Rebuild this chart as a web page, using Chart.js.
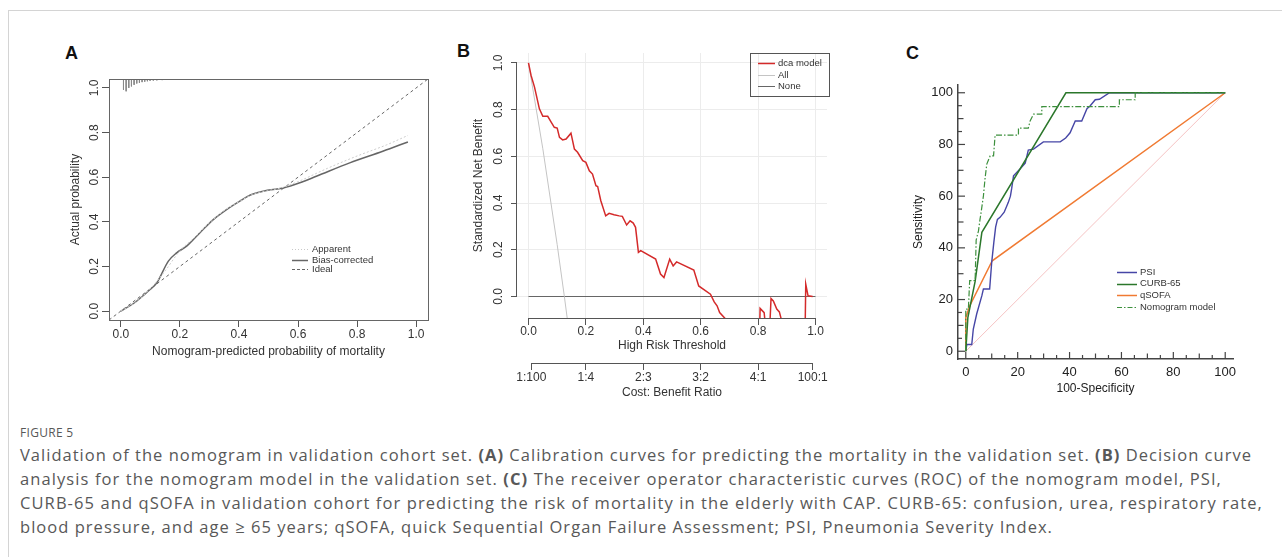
<!DOCTYPE html>
<html>
<head>
<meta charset="utf-8">
<script src="https://cdn.jsdelivr.net/npm/chart.js@4.4.1/dist/chart.umd.min.js"></script>
<style>
 html,body{margin:0;padding:0;background:#fff;}
 body{width:1282px;height:557px;position:relative;overflow:hidden;}
 .frameT{position:absolute;left:8px;top:10px;width:1274px;height:1px;background:#d4d4d4;}
 .frameL{position:absolute;left:8px;top:10px;width:1px;height:547px;background:#d4d4d4;}
 .plbl{position:absolute;font:bold 18px "Liberation Sans",Arial,sans-serif;color:#111;line-height:18px;}
 canvas{position:absolute;}
 .cap{position:absolute;left:20px;font-family:"Open Sans",sans-serif;font-size:16.5px;line-height:24px;color:#585858;white-space:nowrap;}
 .fig{position:absolute;left:20px;top:425px;font-family:"Open Sans",sans-serif;font-size:12px;line-height:16px;color:#585858;letter-spacing:0.3px;white-space:nowrap;}
</style>
</head>
<body>
<div class="frameT"></div><div class="frameL"></div>
<div class="plbl" style="left:65px;top:44px">A</div>
<div class="plbl" style="left:457px;top:42px">B</div>
<div class="plbl" style="left:906px;top:44px">C</div>
<canvas id="cA" width="410" height="310" style="left:40px;top:60px"></canvas>
<canvas id="cB" width="410" height="365" style="left:450px;top:40px"></canvas>
<canvas id="cC" width="380" height="340" style="left:900px;top:60px"></canvas>
<div class="fig">FIGURE 5</div>
<div class="cap" id="l1" style="top:443px">Validation of the nomogram in validation cohort set. <b>(A)</b> Calibration curves for predicting the mortality in the validation set. <b>(B)</b> Decision curve</div>
<div class="cap" id="l2" style="top:467px">analysis for the nomogram model in the validation set. <b>(C)</b> The receiver operator characteristic curves (ROC) of the nomogram model, PSI,</div>
<div class="cap" id="l3" style="top:491px">CURB-65 and qSOFA in validation cohort for predicting the risk of mortality in the elderly with CAP. CURB-65: confusion, urea, respiratory rate,</div>
<div class="cap" id="l4" style="top:515px">blood pressure, and age ≥ 65 years; qSOFA, quick Sequential Organ Failure Assessment; PSI, Pneumonia Severity Index.</div>
<script>
// ---------------- Panel A: calibration ----------------
const calTicks = [0, 0.2, 0.4, 0.6, 0.8, 1.0];
const biasX = [0,0.043,0.099,0.122,0.161,0.189,0.223,0.268,0.313,0.358,0.403,0.437,0.482,0.55,0.606,0.662,0.775,0.887,0.972];
const biasY = [0,0.034,0.097,0.127,0.224,0.261,0.291,0.351,0.41,0.455,0.493,0.519,0.537,0.552,0.575,0.604,0.664,0.716,0.758];
const apparentX = [0,0.05,0.1,0.15,0.2,0.25,0.3,0.35,0.4,0.45,0.5,0.55,0.6,0.7,0.8,0.9,0.972];
const apparentY = [0,0.04,0.10,0.18,0.27,0.33,0.395,0.45,0.49,0.525,0.54,0.555,0.58,0.64,0.695,0.745,0.787];
const idealX = [-0.04, 1.04];
const idealY = [-0.04, 1.04];
const rugX = [0.009,0.018,0.027,0.036,0.045,0.054,0.063,0.072,0.081,0.09,0.099,0.11,0.122,0.14,0.17,0.2,0.24,0.28,0.33,0.38,0.44,0.5,0.57,0.65,0.73,0.82,0.9,0.97];
const rugLen = [0.048,0.055,0.040,0.033,0.026,0.020,0.017,0.014,0.012,0.010,0.008,0.007,0.006,0.005,0.004,0.004,0.003,0.003,0.003,0.003,0.003,0.003,0.003,0.003,0.003,0.003,0.003,0.003];

// ---------------- Panel B: decision curve ----------------
const thrTicks = [0, 0.2, 0.4, 0.6, 0.8, 1.0];
const nbTicks = [0, 0.2, 0.4, 0.6, 0.8, 1.0];
const costLabels = ['1:100','1:4','2:3','3:2','4:1','100:1'];
const dcaX = [0,0.009,0.021,0.038,0.05,0.067,0.079,0.09,0.1,0.108,0.119,0.131,0.148,0.16,0.171,0.189,0.2,0.212,0.223,0.235,0.241,0.252,0.269,0.281,0.298,0.316,0.327,0.342,0.354,0.365,0.373,0.383,0.391,0.443,0.460,0.472,0.492,0.504,0.516,0.576,0.593,0.634,0.647,0.657,0.666,0.685,0.72,0.77,0.802,0.807,0.821,0.832,0.838,0.845,0.853,0.865,0.874,0.892,0.93,0.962,0.966,0.974,0.99];
const dcaY = [1.0,0.946,0.896,0.803,0.771,0.771,0.746,0.724,0.721,0.681,0.670,0.674,0.699,0.631,0.617,0.581,0.574,0.538,0.524,0.474,0.471,0.410,0.345,0.356,0.350,0.345,0.343,0.306,0.324,0.314,0.296,0.189,0.196,0.160,0.096,0.081,0.160,0.131,0.148,0.113,0.045,0.010,-0.023,-0.040,-0.069,-0.094,-0.2,-0.3,-0.3,-0.051,-0.069,-0.2,-0.2,-0.009,-0.019,-0.054,-0.066,-0.15,-0.3,-0.3,0.053,0.003,0.0];
const allX = [0, 0.05, 0.10, 0.125, 0.14];
const allY = [1.0, 0.632, 0.222, 0.0, -0.14];
const noneX = [0, 1];
const noneY = [0, 0];

// ---------------- Panel C: ROC ----------------
const rocTicks = [0,5,10,15,20,25,30,35,40,45,50,55,60,65,70,75,80,85,90,95,100];
const psiX = [0,0.4,2.3,2.9,4.2,6.2,6.8,9.2,10,10.8,11.5,12.2,13.2,14.8,16.4,17.2,17.7,18.4,20.9,22.9,24.1,26.1,29.9,36.4,38.5,40.2,42.2,44.7,46.7,47.9,49.9,51.5,55.4,100];
const psiY = [0,2.6,2.6,8.6,14.4,21.5,24.1,24.1,34.5,42,48,51,51.8,53.8,57.6,60,63,67.9,70.5,72.8,77.8,78.2,81,81,82.5,84.5,89.1,89.1,93.8,94.9,97.3,97.5,100,100];
const curbX = [0,0.8,3.6,6.2,38.6,100];
const curbY = [0,13,27,46,100,100];
const qsofaX = [0,0,1.5,10.2,100];
const qsofaY = [0,13,17.5,35,100];
const nomoX = [0,0,1,1.5,3.6,4,4.9,5.5,5.9,6.8,7.4,8.1,9.4,10.7,11.3,20.3,20.3,24.1,24.8,26.1,29.3,29.3,59.2,59.2,65.3,65.3,100];
const nomoY = [0,16.3,16.3,27.3,27.3,43,46.6,51.1,53.7,60.1,66.6,72.4,75.6,75.6,83.6,83.6,86.3,86.3,89.1,91.7,91.7,94.6,94.6,97.3,97.3,100,100];
const refX = [0, 100];
const refY = [0, 100];

// ---------------- helpers ----------------
const zip = (xs, ys) => xs.map((x, i) => ({x, y: ys[i]}));
const FONT = '"Liberation Sans", Arial, sans-serif';
Chart.defaults.font.family = FONT;
Chart.defaults.color = '#333';

const setTicks = arr => s => { s.ticks = arr.map(v => ({value: v})); };
const fixW = w => s => { s.width = w; };
const fixH = h => s => { s.height = h; };

const boxPlugin = { id: 'boxP', afterDraw(chart) {
  const o = chart.options.plugins.boxP; if (!o || !o.show) return;
  const {ctx, chartArea: a} = chart;
  ctx.save(); ctx.strokeStyle = o.color; ctx.lineWidth = o.width;
  ctx.strokeRect(Math.round(a.left) + 0.5, Math.round(a.top) + 0.5, Math.round(a.right - a.left), Math.round(a.bottom - a.top));
  ctx.restore();
}};

const rAxisPlugin = { id: 'rAxis', afterDraw(chart) {
  const o = chart.options.plugins.rAxis; if (!o || !o.axes) return;
  const ctx = chart.ctx;
  ctx.save(); ctx.strokeStyle = o.color; ctx.lineWidth = 1;
  o.axes.forEach(id => {
    const s = chart.scales[id]; const t = s.ticks;
    const p0 = s.getPixelForValue(t[0].value), p1 = s.getPixelForValue(t[t.length - 1].value);
    ctx.beginPath();
    if (s.isHorizontal()) { const y = Math.round(s.top) + 0.5; ctx.moveTo(p0, y); ctx.lineTo(p1, y); }
    else { const x = Math.round(s.right) - 0.5; ctx.moveTo(x, p0); ctx.lineTo(x, p1); }
    ctx.stroke();
  });
  ctx.restore();
}};

const innerTicks = { id: 'innerTicks', afterDraw(chart) {
  const o = chart.options.plugins.innerTicks; if (!o || !o.show) return;
  const {ctx, chartArea: a} = chart;
  const len = v => (v % 20 === 0 ? 7 : (v % 10 === 0 ? 5.5 : 4));
  ctx.save(); ctx.strokeStyle = o.color; ctx.lineWidth = 1.2;
  chart.scales.x.ticks.forEach(t => { const x = chart.scales.x.getPixelForValue(t.value);
    ctx.beginPath(); ctx.moveTo(x, a.bottom); ctx.lineTo(x, a.bottom - len(t.value)); ctx.stroke(); });
  chart.scales.y.ticks.forEach(t => { const y = chart.scales.y.getPixelForValue(t.value);
    ctx.beginPath(); ctx.moveTo(a.left, y); ctx.lineTo(a.left + len(t.value), y); ctx.stroke(); });
  ctx.restore();
}};

const inLegend = { id: 'inLegend', afterDraw(chart) {
  const o = chart.options.plugins.inLegend; if (!o || !o.items) return;
  const ctx = chart.ctx;
  ctx.save();
  if (o.box) { ctx.strokeStyle = o.box.color; ctx.lineWidth = 1;
    ctx.strokeRect(o.box.x + 0.5, o.box.y + 0.5, o.box.w, o.box.h); }
  ctx.font = o.font; ctx.textBaseline = 'middle'; ctx.textAlign = 'left';
  o.items.forEach((it, i) => {
    const y = o.rows[i];
    ctx.strokeStyle = it.color; ctx.lineWidth = it.width; ctx.setLineDash(it.dash || []);
    ctx.beginPath(); ctx.moveTo(o.x, Math.round(y) + 0.5); ctx.lineTo(o.x + o.len, Math.round(y) + 0.5); ctx.stroke();
    ctx.setLineDash([]);
    ctx.fillStyle = o.textColor; ctx.fillText(it.label, o.x + o.len + o.gap, y + (it.dy || 0));
  });
  ctx.restore();
}};

const baseOpts = {
  responsive: false, animation: false, devicePixelRatio: 1, events: [],
};

// ---------------- Chart A ----------------
const rugData = [];
rugX.forEach((x, i) => { rugData.push({x, y: 1.04}, {x, y: 1.04 - rugLen[i]}, {x, y: null}); });

new Chart(document.getElementById('cA'), {
  type: 'scatter',
  data: { datasets: [
    { label: 'Apparent', data: zip(apparentX, apparentY), showLine: true, borderColor: '#cdcdcd', borderWidth: 1, borderDash: [2, 2], pointRadius: 0, cubicInterpolationMode: 'monotone' },
    { label: 'Bias-corrected', data: zip(biasX, biasY), showLine: true, borderColor: '#666', borderWidth: 1.5, pointRadius: 0, cubicInterpolationMode: 'monotone' },
    { label: 'Ideal', data: zip(idealX, idealY), showLine: true, borderColor: '#666', borderWidth: 1, borderDash: [3, 3], pointRadius: 0 },
    { label: 'rug', data: rugData, showLine: true, spanGaps: false, borderColor: '#888', borderWidth: 1, pointRadius: 0 }
  ]},
  options: Object.assign({}, baseOpts, {
    layout: { padding: { left: 0, top: 19, right: 22, bottom: 5 } },
    plugins: {
      legend: { display: false }, tooltip: { enabled: false },
      boxP: { show: true, color: '#666', width: 1 },
      inLegend: { x: 252, len: 16, gap: 4, rows: [189, 200, 209], font: '9.5px ' + FONT, textColor: '#333',
        items: [
          { label: 'Apparent', color: '#c8c8c8', width: 1, dash: [1, 2] },
          { label: 'Bias-corrected', color: '#666', width: 1.5 },
          { label: 'Ideal', color: '#666', width: 1, dash: [3, 2] }
        ] }
    },
    scales: {
      x: { type: 'linear', min: -0.04, max: 1.04, afterBuildTicks: setTicks(calTicks), afterFit: fixH(45),
        grid: { drawOnChartArea: false, tickLength: 7, tickColor: '#555' }, border: { display: false },
        ticks: { padding: 0, autoSkip: false, maxRotation: 0, font: { size: 12 }, color: '#333', callback: v => v.toFixed(1) },
        title: { display: true, text: 'Nomogram-predicted probability of mortality', font: { size: 12 }, color: '#333', padding: { top: 0, bottom: 6 } } },
      y: { type: 'linear', min: -0.04, max: 1.04, afterBuildTicks: setTicks(calTicks), afterFit: fixW(69),
        grid: { drawOnChartArea: false, tickLength: 7, tickColor: '#555' }, border: { display: false },
        ticks: { padding: -1, autoSkip: false, minRotation: 90, maxRotation: 90, crossAlign: 'center', font: { size: 12 }, color: '#333', callback: v => v.toFixed(1) },
        title: { display: true, text: 'Actual probability', font: { size: 12 }, color: '#333', padding: { top: 28, bottom: 0 } } }
    }
  }),
  plugins: [boxPlugin, inLegend]
});

// ---------------- Chart B ----------------
const costPos = costLabels.map(l => { const [a, b] = l.split(':').map(Number); return a / (a + b); });
new Chart(document.getElementById('cB'), {
  type: 'scatter',
  data: { datasets: [
    { label: 'dca model', data: zip(dcaX, dcaY), showLine: true, borderColor: '#d42a2a', borderWidth: 1.5, pointRadius: 0 },
    { label: 'All', data: zip(allX, allY), showLine: true, borderColor: '#c4c4c4', borderWidth: 1, pointRadius: 0 },
    { label: 'None', data: zip(noneX, noneY), showLine: true, borderColor: '#666', borderWidth: 1.2, pointRadius: 0 }
  ]},
  options: Object.assign({}, baseOpts, {
    layout: { padding: { left: 0, top: 13, right: 33, bottom: 2 } },
    plugins: {
      legend: { display: false }, tooltip: { enabled: false },
      rAxis: { axes: ['x', 'x2', 'y'], color: '#555' },
      inLegend: { box: { x: 300, y: 13, w: 79, h: 43, color: '#555' }, x: 308, len: 17, gap: 3, rows: [23, 35, 46], font: '9.5px ' + FONT, textColor: '#333',
        items: [
          { label: 'dca model', color: '#d42a2a', width: 1.5 },
          { label: 'All', color: '#c4c4c4', width: 1 },
          { label: 'None', color: '#666', width: 1 }
        ] }
    },
    scales: {
      x: { type: 'linear', position: 'bottom', weight: 0, min: -0.04, max: 1.04, afterBuildTicks: setTicks(thrTicks), afterFit: fixH(45),
        grid: { color: '#ececec', tickLength: 7, tickColor: '#555' }, border: { display: false },
        ticks: { padding: -1, autoSkip: false, maxRotation: 0, font: { size: 12 }, color: '#333', callback: v => v.toFixed(1) },
        title: { display: true, text: 'High Risk Threshold', font: { size: 12 }, color: '#333', padding: { top: 0, bottom: 10 } } },
      x2: { type: 'linear', position: 'bottom', weight: 1, min: -0.04, max: 1.04, afterBuildTicks: setTicks(costPos), afterFit: fixH(40),
        grid: { drawOnChartArea: false, tickLength: 7, tickColor: '#555' }, border: { display: false },
        ticks: { padding: 0, autoSkip: false, maxRotation: 0, font: { size: 12 }, color: '#333', callback: (v, i) => costLabels[i] },
        title: { display: true, text: 'Cost: Benefit Ratio', font: { size: 12 }, color: '#333', padding: { top: 0, bottom: 3 } } },
      y: { type: 'linear', min: -0.092, max: 1.042, afterBuildTicks: setTicks(nbTicks), afterFit: fixW(67),
        grid: { color: '#ececec', tickLength: 6, tickColor: '#555' }, border: { display: false },
        ticks: { padding: 4, autoSkip: false, minRotation: 90, maxRotation: 90, crossAlign: 'center', font: { size: 12 }, color: '#333', callback: v => v.toFixed(1) },
        title: { display: true, text: 'Standardized Net Benefit', font: { size: 12 }, color: '#333', padding: { top: 21, bottom: 0 } } }
    }
  }),
  plugins: [rAxisPlugin, inLegend]
});

// ---------------- Chart C ----------------
new Chart(document.getElementById('cC'), {
  type: 'scatter',
  data: { datasets: [
    { label: 'ref', data: zip(refX, refY), showLine: true, borderColor: '#f2b4b4', borderWidth: 0.8, pointRadius: 0, order: 10 },
    { label: 'qSOFA', data: zip(qsofaX, qsofaY), showLine: true, borderColor: '#f07a32', borderWidth: 1.5, pointRadius: 0, order: 4 },
    { label: 'PSI', data: zip(psiX, psiY), showLine: true, borderColor: '#4646a6', borderWidth: 1.4, pointRadius: 0, order: 3 },
    { label: 'CURB-65', data: zip(curbX, curbY), showLine: true, borderColor: '#2b772b', borderWidth: 1.5, pointRadius: 0, order: 2 },
    { label: 'Nomogram model', data: zip(nomoX, nomoY), showLine: true, borderColor: '#3d903d', borderWidth: 1.2, borderDash: [6, 2, 1.5, 2], pointRadius: 0, order: 1 }
  ]},
  options: Object.assign({}, baseOpts, {
    layout: { padding: { left: 0, top: 25, right: 47, bottom: 1 } },
    plugins: {
      legend: { display: false }, tooltip: { enabled: false },
      innerTicks: { show: true, color: '#444' },
      inLegend: { x: 217, len: 20, gap: 3, rows: [212, 223.5, 235, 247], font: '9.5px ' + FONT, textColor: '#333',
        items: [
          { label: 'PSI', color: '#4646a6', width: 1.5 },
          { label: 'CURB-65', color: '#2b772b', width: 1.5 },
          { label: 'qSOFA', color: '#f07a32', width: 1.5 },
          { label: 'Nomogram model', color: '#3d903d', width: 1.2, dash: [5, 2, 1.5, 2] }
        ] }
    },
    scales: {
      x: { type: 'linear', min: -3, max: 103, afterBuildTicks: setTicks(rocTicks), afterFit: fixH(40),
        grid: { drawOnChartArea: false, drawTicks: false }, border: { display: true, color: '#444', width: 1.5 },
        ticks: { padding: 6, autoSkip: false, maxRotation: 0, font: { size: 13 }, color: '#222', callback: v => (v % 20 === 0 ? String(v) : '') },
        title: { display: true, text: '100-Specificity', font: { size: 12 }, color: '#222', padding: { top: 0, bottom: 3 } } },
      y: { type: 'linear', min: -3, max: 103, afterBuildTicks: setTicks(rocTicks), afterFit: fixW(58),
        grid: { drawOnChartArea: false, drawTicks: false }, border: { display: true, color: '#444', width: 1.5 },
        ticks: { padding: 5, autoSkip: false, font: { size: 13 }, color: '#222', callback: v => (v % 20 === 0 ? String(v) : '') },
        title: { display: true, text: 'Sensitivity', font: { size: 12 }, color: '#222', padding: { top: 11, bottom: 0 } } }
    }
  }),
  plugins: [innerTicks, inLegend]
});

// ---------------- caption fitting ----------------
const capRight = { l1: 1252, l2: 1222, l3: 1263, l4: 1053 };
Object.keys(capRight).forEach(id => {
  const el = document.getElementById(id);
  const w = el.getBoundingClientRect().width;
  const n = el.textContent.length;
  el.style.letterSpacing = ((capRight[id] - 20 - w) / n).toFixed(3) + 'px';
});
</script>
</body>
</html>
